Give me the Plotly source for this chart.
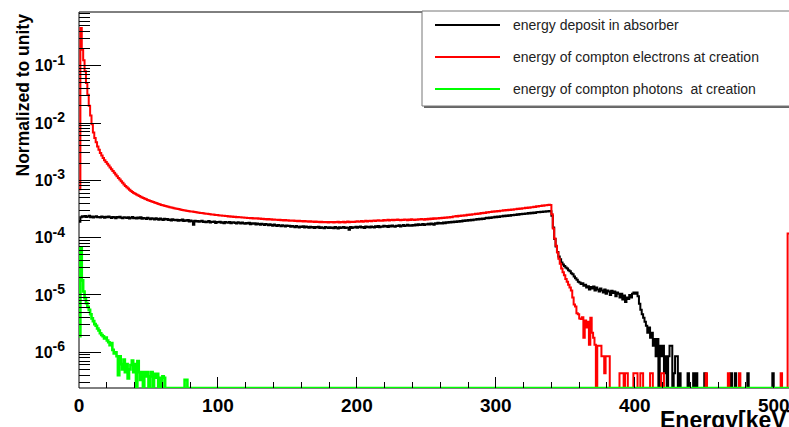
import numpy as np
import plotly.graph_objects as go

# ---------------- data (values in units of 1e-6, i.e. ppm of unity) ----------------
BIN_WIDTH_KEV = 1.0
N_BINS = 511

x_tick_values = [0, 100, 200, 300, 400, 500]
x_tick_labels = ["0", "100", "200", "300", "400", "500"]
y_tick_values = [1e-6, 1e-5, 1e-4, 1e-3, 1e-2, 1e-1]
y_tick_exponents = ["-6", "-5", "-4", "-3", "-2", "-1"]

legend_labels = ["energy deposit in absorber",
                 "energy of compton electrons at creation",
                 "energy of compton photons  at creation"]

# energy deposit in absorber, bins 0..339
black_main_ppm = [
    190, 228, 236, 231, 238, 229, 234, 240, 228, 233,
    225, 232, 236, 227, 230, 224, 233, 229, 222, 231,
    228, 234, 226, 221, 230, 227, 219, 229, 225, 232,
    223, 218, 228, 224, 220, 227, 216, 223, 229, 218,
    222, 215, 224, 219, 226, 213, 220, 217, 211, 222,
    216, 209, 219, 214, 207, 218, 212, 206, 215, 210,
    204, 213, 208, 211, 203, 207, 199, 209, 204, 201,
    206, 198, 203, 200, 207, 195, 201, 197, 204, 192,
    199, 194, 168, 197, 191, 196, 189, 193, 198, 187,
    192, 186, 190, 195, 183, 189, 187, 192, 180, 188,
    185, 190, 182, 186, 179, 188, 184, 181, 187, 178,
    183, 186, 180, 177, 185, 181, 176, 183, 179, 174,
    180, 176, 182, 172, 178, 174, 179, 170, 176, 173,
    168, 175, 171, 166, 173, 169, 164, 171, 167, 162,
    169, 165, 160, 167, 163, 158, 165, 161, 156, 163,
    159, 162, 155, 160, 157, 152, 159, 155, 150, 157,
    154, 158, 151, 156, 153, 149, 155, 151, 154, 148,
    153, 150, 155, 147, 152, 149, 146, 153, 150, 147,
    152, 148, 151, 146, 153, 149, 145, 152, 148, 150,
    154, 147, 151, 149, 138, 153, 148, 152, 150, 155,
    149, 153, 156, 150, 154, 148, 157, 152, 155, 151,
    157, 153, 150, 158, 154, 160, 152, 157, 155, 161,
    156, 159, 154, 161, 157, 163, 158, 155, 162, 159,
    164, 157, 161, 166, 159, 163, 168, 161, 165, 162,
    167, 163, 169, 164, 171, 166, 168, 173, 167, 172,
    169, 175, 170, 177, 173, 168, 179, 174, 181, 176,
    180, 176, 183, 179, 185, 181, 187, 183, 190, 186,
    191, 187, 194, 190, 196, 192, 199, 195, 201, 197,
    203, 199, 206, 202, 208, 205, 211, 207, 214, 210,
    216, 212, 219, 223, 217, 225, 221, 228, 224, 231,
    227, 234, 230, 237, 233, 240, 236, 243, 239, 246,
    242, 249, 245, 252, 248, 256, 251, 259, 255, 262,
    258, 265, 261, 268, 264, 271, 267, 274, 270, 277,
    281, 277, 284, 280, 287, 283, 290, 286, 293, 289,
]
# bins 340..432
black_tail_ppm = [
    240, 150, 95, 70, 56, 47, 42, 37, 34, 32,
    30, 29, 27, 26, 24, 23, 21, 19.5, 18.5, 17,
    16.5, 15.5, 16, 14.5, 15, 13.5, 14.2, 12.5, 13.8, 13,
    14, 12, 13.5, 12.5, 11.5, 13, 12, 11, 12.5, 10.5,
    12, 11.5, 10, 11.8, 10.8, 11.5, 9.5, 11, 10.5, 9,
    10.5, 8.3, 9.8, 7.5, 9, 8.5, 10, 9, 10.5, 11,
    10.5, 11, 9.5, 7, 5.5, 4.6, 4, 3.4, 2.9, 2.2,
    2.7, 1.8, 2.2, 1.3, 1.7, 0.85, 1.7, 0, 1.3, 0.85,
    1.3, 0.43, 0.85, 0, 0.85, 1.3, 1.3, 0, 0.43, 0.85,
    0.85, 0, 0.43,
]
black_sparse_bins = [438, 442, 444, 450, 469, 472, 481, 499]
black_sparse_ppm = [0.43, 0.43, 0.43, 0.43, 0.43, 0.43, 0.43, 0.43]

# energy of compton electrons at creation, bins 0..339
red_main_ppm = [
    700, 457000, 190000, 125000, 80000, 50000, 31000, 20000, 13500, 9500,
    6800, 5500, 4600, 3900, 3400, 3000, 2700, 2450, 2250, 2090,
    1950, 1810, 1680, 1560, 1450, 1350, 1260, 1180, 1100, 1030,
    965, 905, 850, 800, 757, 718, 682, 650, 623, 600,
    585, 565, 548, 532, 517, 503, 490, 478, 467, 456,
    446, 436, 427, 418, 410, 402, 394, 387, 380, 373,
    367, 361, 355, 350, 345, 340, 335, 331, 327, 323,
    319, 315, 312, 308, 305, 302, 299, 296, 293, 290,
    287, 285, 282, 280, 277, 275, 272, 270, 268, 266,
    264, 262, 260, 258, 256, 254, 253, 251, 249, 248,
    246, 244, 244, 241, 241, 238, 238, 235, 236, 232,
    233, 230, 231, 228, 229, 226, 227, 224, 225, 222,
    223, 220, 221, 218, 220, 216, 218, 215, 217, 213,
    215, 212, 213, 210, 212, 208, 211, 207, 209, 206,
    208, 205, 206, 203, 206, 202, 204, 200, 203, 199,
    202, 198, 200, 197, 199, 195, 198, 194, 197, 193,
    196, 192, 195, 191, 194, 190, 193, 189, 192, 188,
    191, 187, 190, 186, 189, 185, 188, 185, 187, 184,
    188, 185, 187, 184, 188, 185, 189, 184, 187, 185,
    189, 184, 188, 191, 186, 189, 187, 190, 188, 191,
    194, 189, 192, 195, 190, 194, 197, 192, 195, 198,
    193, 197, 200, 195, 199, 202, 197, 200, 198, 203,
    199, 202, 205, 200, 203, 206, 201, 205, 203, 207,
    204, 201, 206, 203, 208, 205, 202, 207, 204, 209,
    206, 203, 208, 205, 210, 207, 212, 209, 206, 211,
    208, 213, 210, 215, 212, 217, 214, 219, 216, 221,
    218, 223, 220, 225, 222, 228, 225, 230, 227, 233,
    233, 238, 235, 241, 238, 244, 241, 247, 244, 250,
    248, 254, 251, 257, 255, 261, 258, 264, 262, 268,
    266, 272, 270, 277, 275, 281, 279, 285, 283, 289,
    287, 293, 290, 296, 294, 300, 297, 303, 301, 307,
    304, 310, 308, 314, 312, 318, 316, 323, 320, 327,
    325, 331, 329, 336, 334, 340, 338, 345, 343, 352,
    350, 357, 355, 362, 360, 366, 368, 372, 375, 370,
]
# bins 340..381
red_tail_ppm = [
    255, 145, 97, 72, 55, 43, 35, 29, 25, 22,
    19, 17, 15, 13.5, 12, 9, 6.8, 6.3, 4.8, 4.6,
    3.9, 3.8, 4.1, 1.8, 3.6, 2.7, 3.4, 1.35, 4.0, 2.2,
    1.8, 1.35, 0, 1.3, 1.3, 1.3, 0.85, 0.85, 0.43, 0.85, 0.85, 0.85,
]
red_sparse_bins = [389, 390, 391, 393, 394, 399, 400, 401, 404, 405,
                   411, 412, 419, 420, 451, 467, 475, 505, 510]
red_sparse_ppm = [0.43, 0.43, 0.43, 0.43, 0.43, 0.43, 0.43, 0.43, 0.43, 0.43,
                  0.43, 0.43, 0.43, 0.43, 0.43, 0.43, 0.43, 0.43, 118]

# energy of compton photons at creation, bins 0..62
green_main_ppm = [
    1.9, 65, 18, 11.5, 8.8, 7.2, 6.2, 5.5, 4.6, 3.9,
    3.5, 3.1, 2.9, 2.6, 2.4, 2.15, 2.0, 1.9, 1.75, 1.8,
    1.6, 1.5, 1.33, 1.45, 1.1, 0.95, 1.0, 0.85, 0.4, 0.85,
    0.62, 0.5, 0.75, 0.45, 0.62, 0.35, 0.5, 0.6, 0.72, 0.45,
    0.62, 0, 0.7, 0.45, 0.33, 0.45, 0, 0.45, 0.38, 0.45,
    0, 0.38, 0.45, 0, 0.42, 0.36, 0.42, 0, 0.36, 0,
    0.38, 0.36, 0,
]
green_sparse_bins = [76, 77]
green_sparse_ppm = [0.33, 0.33]

# ---------------- assemble histograms ----------------
PPM = 1e-6
Y_MIN, Y_MAX = 2.38e-7, 0.865


def build(main, tail_start=None, tail=None, sp_bins=(), sp_vals=()):
    h = np.zeros(N_BINS)
    h[:len(main)] = main
    if tail is not None:
        h[tail_start:tail_start + len(tail)] = tail
    for b, v in zip(sp_bins, sp_vals):
        h[b] = v
    h = h * PPM
    # empty bins are drawn on the lower frame edge, as ROOT does on log scale
    return np.where(h > 0, h, Y_MIN)


black = build(black_main_ppm, 340, black_tail_ppm, black_sparse_bins, black_sparse_ppm)
red = build(red_main_ppm, 340, red_tail_ppm, red_sparse_bins, red_sparse_ppm)
green = build(green_main_ppm, None, None, green_sparse_bins, green_sparse_ppm)

edges = np.arange(N_BINS + 1) * BIN_WIDTH_KEV

FONT = "Liberation Sans, Arial, Helvetica, sans-serif"

fig = go.Figure()
for vals, col, w in [(black, "#000000", 2), (red, "#ff0000", 2), (green, "#00ff00", 2.6)]:
    fig.add_trace(go.Scatter(
        x=edges, y=np.append(vals, vals[-1]), mode="lines",
        line=dict(color=col, width=w, shape="hv"),
        showlegend=False, hoverinfo="skip"))

# ---------------- layout ----------------
W, H = 789, 427
L, T, PW, PH = 79, 12, 710, 376


def pxx(v):
    return (v - L) / PW


def pxy(v):
    return (T + PH - v) / PH


x_minor = [v for v in range(20, 520, 20) if v % 100 != 0]
y_minor = [k * 10.0 ** d for d in range(-7, 0) for k in range(2, 10)
           if Y_MIN < k * 10.0 ** d < Y_MAX]
y_tick_labels = ["10<sup><span style='font-size:14px'>%s</span></sup>" % e
                 for e in y_tick_exponents]

fig.update_layout(
    width=W, height=H,
    margin=dict(l=L, r=W - L - PW, t=T, b=H - T - PH, autoexpand=False),
    paper_bgcolor="white", plot_bgcolor="white",
    font=dict(family=FONT, color="black"),
    xaxis=dict(
        range=[0, 511], showgrid=False, zeroline=False, showline=False,
        automargin=False, ticklabeloverflow="allow",
        tickmode="array", tickvals=x_tick_values, ticktext=x_tick_labels,
        ticks="inside", ticklen=11, tickwidth=1, tickcolor="black",
        tickfont=dict(family=FONT, size=19, weight="bold", color="black"),
        ticklabelstandoff=4,
        minor=dict(tickmode="array", tickvals=x_minor, ticks="inside",
                   ticklen=6, tickwidth=1, tickcolor="black"),
    ),
    yaxis=dict(
        type="log", range=[np.log10(Y_MIN), np.log10(Y_MAX)],
        showgrid=False, zeroline=False, showline=False,
        automargin=False, ticklabeloverflow="allow",
        tickmode="array", tickvals=y_tick_values, ticktext=y_tick_labels,
        ticks="inside", ticklen=22, tickwidth=1, tickcolor="black",
        tickfont=dict(family=FONT, size=16, weight="bold", color="black"),
        ticklabelstandoff=13,
        minor=dict(tickmode="array", tickvals=y_minor, ticks="inside",
                   ticklen=11, tickwidth=1, tickcolor="black"),
    ),
)

shapes = [
    # frame (right side lies outside the window)
    dict(type="rect", xref="paper", yref="paper", x0=0, x1=1.2, y0=0, y1=1,
         line=dict(color="black", width=1), layer="below"),
    # legend shadow and box
    dict(type="rect", xref="paper", yref="paper",
         x0=pxx(424), x1=pxx(820), y0=pxy(108), y1=pxy(13),
         fillcolor="#666666", line=dict(width=0), layer="above"),
    dict(type="rect", xref="paper", yref="paper",
         x0=pxx(422), x1=pxx(820), y0=pxy(106), y1=pxy(11),
         fillcolor="white", line=dict(color="#777777", width=1), layer="above"),
]
annotations = []
legend_colors = ["#000000", "#ff0000", "#00ff00"]
legend_rows_px = [25, 57, 89]
for lab, col, ry in zip(legend_labels, legend_colors, legend_rows_px):
    shapes.append(dict(type="line", xref="paper", yref="paper",
                       x0=pxx(435), x1=pxx(500), y0=pxy(ry), y1=pxy(ry),
                       line=dict(color=col, width=2), layer="above"))
    annotations.append(dict(xref="paper", yref="paper", x=pxx(511), y=pxy(ry),
                            xanchor="left", yanchor="middle", text=lab,
                            showarrow=False,
                            font=dict(family=FONT, size=14, color="#222222")))

annotations.append(dict(xref="paper", yref="paper", x=pxx(22), y=pxy(12),
                        xanchor="center", yanchor="top", textangle=-90,
                        text="Normalized to unity", showarrow=False,
                        font=dict(family=FONT, size=17.5, weight="bold", color="black")))
annotations.append(dict(xref="paper", yref="paper", x=pxx(658), y=pxy(405),
                        xanchor="left", yanchor="top", text="Energy[keV]",
                        showarrow=False,
                        font=dict(family=FONT, size=23, weight="bold", color="black")))

fig.update_layout(shapes=shapes, annotations=annotations)

# remove the browser's default 8px page margin so the figure sits at the window origin
fig.write_html("out.html",
               config={"displayModeBar": False},
               post_script="document.body.style.margin='0px';document.body.style.overflow='hidden';")
